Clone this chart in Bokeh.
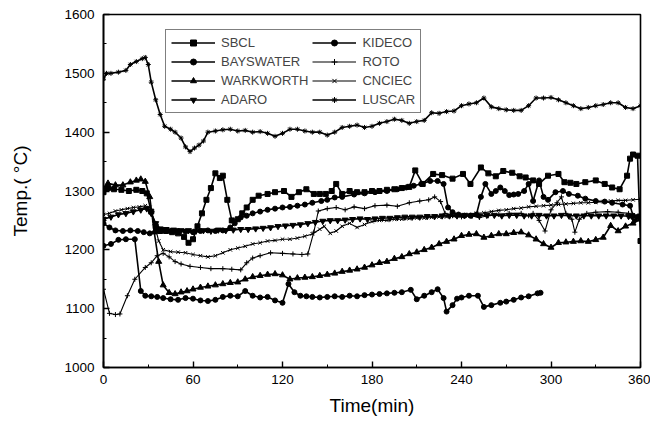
from bokeh.plotting import figure
from bokeh.models import Legend, LegendItem, SingleIntervalTicker, Range1d
from bokeh.embed import file_html
from bokeh.resources import INLINE

# ---------------- data ----------------
sbcl_t = [0, 3, 7, 12, 17, 22, 26, 29, 32, 35, 38, 42, 46, 50, 54, 57, 60, 63, 66, 69, 72, 75, 78, 80, 83, 86,
          90, 93, 96, 100, 104, 110, 115, 121, 126, 131, 136, 141, 145, 149, 153, 156, 160, 165, 170, 175, 180,
          185, 190, 195, 200, 205, 209, 214, 221, 227, 234, 241, 246, 253, 258, 263, 268, 274, 279, 283, 288,
          292, 298, 305, 309, 313, 317, 323, 330, 336, 341, 346, 351, 353, 355, 358, 360]
sbcl_T = [1298, 1305, 1303, 1302, 1300, 1302, 1300, 1296, 1265, 1240, 1232, 1232, 1230, 1228, 1222, 1212, 1218,
          1240, 1262, 1285, 1305, 1330, 1322, 1326, 1285, 1250, 1252, 1262, 1272, 1285, 1292, 1295, 1298, 1300,
          1290, 1298, 1303, 1295, 1295, 1295, 1300, 1312, 1295, 1300, 1298, 1298, 1300, 1300, 1302, 1303, 1305,
          1307, 1335, 1312, 1329, 1327, 1321, 1329, 1312, 1340, 1330, 1325, 1334, 1331, 1325, 1323, 1318, 1312,
          1326, 1329, 1315, 1314, 1312, 1315, 1318, 1312, 1306, 1303, 1326, 1355, 1362, 1360, 1215]

bays_t = [0, 4, 8, 13, 18, 23, 27, 31, 35, 40, 45, 50, 55, 60, 65, 70, 75, 80, 85, 88, 92, 96, 100, 105, 110,
          115, 120, 125, 130, 135, 140, 146, 150, 155, 160, 168, 175, 182, 190, 197, 203, 208, 213, 219, 224,
          228, 231, 234, 238, 242, 246, 250, 253, 256, 260, 263, 266, 269, 272, 275, 278, 282, 285, 288, 292,
          295, 298, 303, 308, 312, 318, 323, 330, 336, 341, 348, 353, 355, 358, 360]
bays_T = [1245, 1238, 1233, 1232, 1233, 1232, 1230, 1228, 1232, 1233, 1232, 1232, 1231, 1230, 1232, 1233, 1232,
          1233, 1238, 1245, 1255, 1258, 1262, 1265, 1268, 1270, 1272, 1273, 1275, 1277, 1280, 1283, 1285, 1289,
          1290, 1294, 1296, 1298, 1300, 1303, 1306, 1309, 1312, 1317, 1317, 1312, 1272, 1264, 1260, 1258, 1258,
          1260, 1290, 1312, 1295, 1300, 1306, 1300, 1293, 1294, 1295, 1300, 1312, 1283, 1318, 1290, 1285, 1298,
          1300, 1295, 1292, 1287, 1283, 1282, 1280, 1277, 1275, 1258, 1256, 1255]

wark_t = [0, 3, 8, 13, 18, 22, 25, 28, 31, 34, 37, 40, 44, 48, 52, 56, 60, 65, 70, 75, 80, 85, 90, 95, 100, 105,
          110, 115, 120, 125, 130, 135, 140, 145, 150, 155, 160, 165, 170, 175, 180, 185, 190, 195, 200, 205,
          210, 215, 220, 225, 230, 235, 240, 245, 250, 255, 260, 265, 270, 275, 280, 285, 290, 295, 300, 305,
          310, 315, 320, 325, 330, 335, 340, 345, 350, 355, 360]
wark_T = [1305, 1313, 1310, 1310, 1315, 1318, 1320, 1316, 1290, 1230, 1180, 1140, 1127, 1125, 1128, 1130, 1133,
          1136, 1138, 1140, 1142, 1144, 1145, 1150, 1154, 1156, 1158, 1159, 1157, 1150, 1152, 1153, 1154, 1156,
          1158, 1160, 1163, 1165, 1167, 1170, 1174, 1178, 1180, 1185, 1188, 1193, 1196, 1200, 1204, 1210, 1214,
          1218, 1224, 1226, 1227, 1221, 1224, 1227, 1227, 1229, 1230, 1225, 1218, 1210, 1204, 1212, 1213, 1214,
          1215, 1214, 1217, 1221, 1241, 1232, 1240, 1245, 1252]

adaro_t = [0, 5, 10, 15, 20, 25, 29, 32, 35, 38, 42, 47, 52, 57, 62, 67, 72, 77, 82, 87, 92, 97, 102, 107, 112,
           117, 122, 127, 132, 137, 142, 147, 152, 157, 162, 167, 172, 177, 182, 187, 192, 197, 202, 207, 212,
           217, 222, 227, 232, 237, 242, 247, 252, 257, 262, 267, 272, 277, 282, 287, 292, 297, 302, 307, 312,
           317, 322, 327, 332, 337, 342, 347, 352, 356, 360]
adaro_T = [1252, 1256, 1260, 1262, 1265, 1268, 1270, 1262, 1245, 1236, 1235, 1234, 1233, 1233, 1232, 1233, 1232,
           1234, 1233, 1234, 1235, 1235, 1236, 1237, 1238, 1240, 1241, 1242, 1243, 1245, 1247, 1249, 1250, 1250,
           1251, 1252, 1253, 1252, 1253, 1254, 1254, 1255, 1256, 1256, 1256, 1257, 1257, 1258, 1258, 1258, 1259,
           1259, 1258, 1259, 1259, 1258, 1259, 1259, 1258, 1258, 1259, 1258, 1258, 1259, 1258, 1258, 1258, 1258,
           1258, 1258, 1258, 1258, 1257, 1250, 1258]

kid_t = [0, 5, 10, 15, 21, 25, 28, 32, 36, 40, 45, 50, 55, 60, 65, 70, 75, 80, 85, 90, 95, 100, 105, 110, 115,
         120, 124, 128, 132, 136, 140, 145, 150, 155, 160, 165, 170, 175, 180, 185, 190, 195, 200, 206, 210, 215,
         220, 224, 228, 230, 234, 237, 240, 245, 251, 255, 260, 266, 270, 275, 280, 285, 291, 293]
kid_T = [1207, 1210, 1217, 1218, 1218, 1130, 1122, 1121, 1120, 1118, 1116, 1115, 1118, 1117, 1114, 1113, 1115,
         1120, 1122, 1121, 1130, 1122, 1119, 1120, 1114, 1110, 1142, 1128, 1122, 1121, 1120, 1119, 1120, 1121,
         1120, 1122, 1121, 1123, 1124, 1125, 1126, 1127, 1128, 1132, 1116, 1122, 1128, 1133, 1118, 1095, 1106,
         1117, 1119, 1122, 1122, 1103, 1106, 1110, 1112, 1115, 1119, 1121, 1126, 1127]

roto_t = [0, 4, 8, 11, 16, 21, 28, 32, 36, 40, 44, 48, 52, 58, 65, 72, 80, 86, 92, 96, 100, 105, 112, 120, 127,
          133, 137, 141, 144, 150, 156, 162, 168, 175, 182, 190, 197, 205, 212, 218, 222, 226, 229, 234, 240, 246,
          252, 258, 265, 272, 280, 285, 288, 292, 296, 300, 304, 307, 310, 314, 316, 319, 324, 330, 338, 345,
          352, 356, 360]
roto_T = [1133, 1092, 1090, 1091, 1122, 1150, 1170, 1178, 1190, 1194, 1188, 1180, 1176, 1172, 1170, 1168, 1168,
          1167, 1166, 1178, 1186, 1190, 1195, 1194, 1193, 1192, 1193, 1230, 1266, 1270, 1272, 1268, 1273, 1270,
          1275, 1276, 1274, 1280, 1283, 1285, 1290, 1282, 1262, 1258, 1256, 1258, 1255, 1258, 1260, 1262, 1262,
          1258, 1262, 1250, 1232, 1268, 1280, 1290, 1262, 1252, 1230, 1252, 1262, 1264, 1265, 1264, 1262, 1258,
          1258]

cnc_t = [0, 4, 8, 12, 16, 20, 24, 28, 31, 34, 37, 40, 45, 50, 55, 60, 65, 70, 75, 80, 85, 90, 95, 100, 105, 110,
         115, 120, 125, 130, 135, 140, 145, 148, 152, 156, 160, 165, 170, 175, 180, 185, 190, 195, 200, 205, 210,
         215, 220, 225, 230, 235, 240, 245, 250, 255, 260, 265, 270, 275, 280, 285, 290, 295, 300, 305, 310, 315,
         320, 325, 330, 335, 340, 345, 350, 355, 360]
cnc_T = [1260, 1262, 1266, 1268, 1270, 1272, 1273, 1275, 1272, 1245, 1215, 1200, 1197, 1196, 1195, 1192, 1190,
         1188, 1190, 1195, 1200, 1203, 1206, 1210, 1212, 1215, 1216, 1218, 1218, 1220, 1223, 1227, 1235, 1240,
         1228, 1232, 1240, 1245, 1238, 1243, 1248, 1250, 1250, 1252, 1252, 1253, 1254, 1254, 1255, 1256, 1256,
         1257, 1258, 1260, 1262, 1263, 1265, 1267, 1268, 1270, 1271, 1273, 1274, 1275, 1276, 1277, 1278, 1279,
         1280, 1280, 1281, 1282, 1283, 1284, 1284, 1285, 1286]

lus_t = [0, 2, 5, 10, 15, 18, 22, 26, 28, 30, 32, 35, 38, 41, 45, 48, 52, 55, 58, 61, 64, 67, 70, 75, 80, 85, 90,
         95, 100, 105, 110, 115, 120, 125, 130, 135, 140, 145, 150, 155, 160, 165, 170, 175, 180, 185, 190, 195,
         200, 205, 210, 215, 220, 225, 230, 235, 240, 245, 250, 255, 260, 265, 270, 275, 280, 285, 290, 295, 300,
         305, 310, 315, 320, 325, 330, 335, 340, 345, 350, 355, 360]
lus_T = [1490, 1500, 1500, 1502, 1505, 1515, 1520, 1525, 1527, 1515, 1485, 1455, 1430, 1410, 1405, 1400, 1390,
         1375, 1367, 1373, 1378, 1385, 1400, 1402, 1404, 1405, 1402, 1403, 1400, 1401, 1398, 1393, 1398, 1405,
         1405, 1402, 1400, 1400, 1395, 1400, 1408, 1410, 1412, 1408, 1410, 1415, 1418, 1422, 1420, 1415, 1418,
         1420, 1433, 1432, 1435, 1436, 1445, 1448, 1450, 1458, 1443, 1440, 1438, 1437, 1437, 1445, 1458, 1458,
         1459, 1455, 1450, 1445, 1440, 1442, 1445, 1447, 1450, 1450, 1442, 1440, 1445]

series = [
    ("SBCL", sbcl_t, sbcl_T, "square", 5, 1.6),
    ("BAYSWATER", bays_t, bays_T, "circle", 5, 1.6),
    ("WARKWORTH", wark_t, wark_T, "triangle", 6, 1.6),
    ("ADARO", adaro_t, adaro_T, "inverted_triangle", 6, 1.6),
    ("KIDECO", kid_t, kid_T, "circle", 5, 1.6),
    ("ROTO", roto_t, roto_T, "cross", 5, 1.1),
    ("CNCIEC", cnc_t, cnc_T, "x", 5, 1.1),
    ("LUSCAR", lus_t, lus_T, "asterisk", 5, 1.6),
]

FONT = "Liberation Sans"

p = figure(width=650, height=421, output_backend="svg", toolbar_location=None,
           x_range=Range1d(0, 360), y_range=Range1d(1000, 1600),
           min_border_left=103, min_border_right=10, min_border_top=14, min_border_bottom=54,
           background_fill_color="white", border_fill_color="white")
p.grid.visible = False
p.outline_line_color = "black"
p.outline_line_width = 1.6

items = []
for name, t, T, mk, sz, lw in series:
    r1 = p.line(t, T, line_color="black", line_width=lw)
    r2 = p.scatter(t, T, marker=mk, size=sz, fill_color="black", line_color="black", line_width=1)
    items.append(LegendItem(label=name, renderers=[r1, r2]))

for ax in (p.xaxis[0], p.yaxis[0]):
    ax.axis_line_color = "black"
    ax.axis_line_width = 1.6
    ax.major_tick_in = 6
    ax.major_tick_out = 0
    ax.minor_tick_in = 3
    ax.minor_tick_out = 0
    ax.major_tick_line_color = "black"
    ax.minor_tick_line_color = "black"
    ax.major_tick_line_width = 1.4
    ax.major_label_text_font = FONT
    ax.major_label_text_font_size = "13.5px"
    ax.major_label_text_color = "black"
    ax.axis_label_text_font = FONT
    ax.axis_label_text_font_size = "19px"
    ax.axis_label_text_font_style = "normal"
    ax.axis_label_text_color = "black"

p.xaxis.ticker = SingleIntervalTicker(interval=60, num_minor_ticks=2)
p.yaxis.ticker = SingleIntervalTicker(interval=100, num_minor_ticks=2)
p.xaxis.major_label_standoff = 7
p.yaxis.major_label_standoff = 9
p.xaxis.axis_label = "Time(min)"
p.yaxis.axis_label = "Temp.( °C)"
p.xaxis.axis_label_standoff = 8
p.yaxis.axis_label_standoff = 30

legend = Legend(items=items, location=(62, 254), ncols=2,
                border_line_color="black", border_line_width=1.2,
                background_fill_alpha=1.0, padding=5, spacing=4, margin=0,
                glyph_width=44, glyph_height=15, label_standoff=6,
                label_text_font=FONT, label_text_font_size="13px", label_height=15)
p.add_layout(legend, "center")

open("out.html", "w").write(file_html(p, INLINE))
